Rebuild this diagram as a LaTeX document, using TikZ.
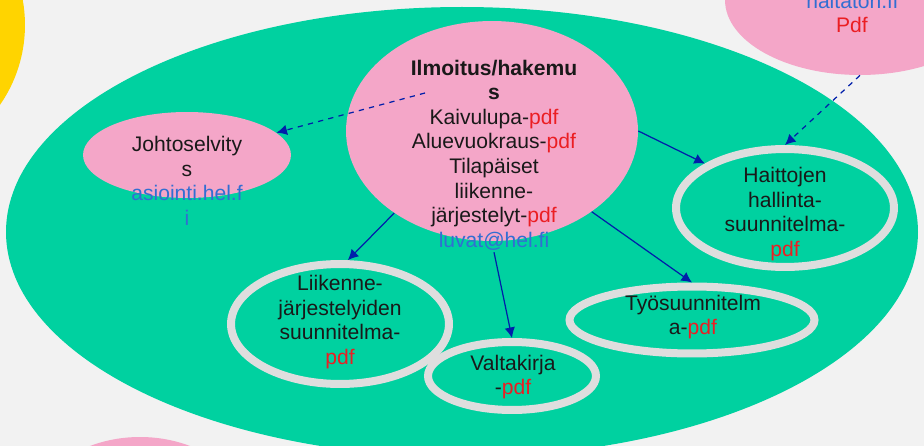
\documentclass[tikz,border=0pt]{standalone}
\usepackage{fontspec}
\setmainfont{Liberation Sans}
\usepackage{xcolor}
\usetikzlibrary{shapes.geometric, arrows.meta, positioning}

\definecolor{paper}{RGB}{242,242,242}
\definecolor{sungold}{RGB}{255,212,0}
\definecolor{fieldgreen}{RGB}{0,209,160}
\definecolor{bubblepink}{RGB}{244,166,200}
\definecolor{ringgray}{RGB}{222,222,222}
\definecolor{pdfred}{RGB}{235,30,35}
\definecolor{linkblue}{RGB}{50,110,210}
\definecolor{arrowblue}{RGB}{0,30,170}
\definecolor{inkdark}{RGB}{25,25,25}

\begin{document}
\begin{tikzpicture}[x=0.02cm, y=-0.02cm,
    bubble/.style={ellipse, fill=bubblepink, inner sep=0pt},
    ring/.style={ellipse, draw=ringgray, line width=0.16cm, fill=fieldgreen, inner sep=0pt},
    txt/.style={align=center, font=\fontsize{12}{14}\selectfont, text=inkdark, inner sep=1pt},
    link/.style={-{Latex[length=6pt,width=6pt]}, draw=arrowblue, line width=0.7pt},
    dashlink/.style={link, dashed}
]
% Frame
\clip (0,0) rectangle (924,446);
\fill[paper] (0,0) rectangle (924,446);

% Background shapes
\fill[sungold] (-115,25) circle [radius=2.8cm];
\fill[bubblepink] (140,545) ellipse (125 and 108);
\fill[fieldgreen] (462,232) ellipse (456 and 225);

% Bubbles
\node[bubble, minimum width=5.4cm, minimum height=3cm] (haitaton) at (860,0) {};
\node[bubble, minimum width=5.84cm, minimum height=4.4cm] (ilm) at (492,131) {};
\node[bubble, minimum width=4.16cm, minimum height=1.72cm] (johto) at (187,155) {};

% Rings
\node[ring, minimum width=4.36cm, minimum height=2.36cm] (haitt) at (785,208) {};
\node[ring, minimum width=4.36cm, minimum height=2.4cm] (liik) at (340,324) {};
\node[ring, minimum width=3.36cm, minimum height=1.36cm] (valt) at (512,376) {};
\node[ring, minimum width=4.9cm, minimum height=1.34cm] (tyo) at (692,320) {};

% Texts
\node[txt] (haitatontext) at (852,13) {\textcolor{linkblue}{haitaton.fi}\\\textcolor{pdfred}{Pdf}};
\node[txt] (ilmtext) at (494,155) {\textbf{Ilmoitus/hakemu}\\\textbf{s}\\Kaivulupa-\textcolor{pdfred}{pdf}\\Aluevuokraus-\textcolor{pdfred}{pdf}\\Tilapäiset\\liikenne-\\järjestelyt-\textcolor{pdfred}{pdf}\\\textcolor{linkblue}{luvat@hel.fi}};
\node[txt] (johtotext) at (187,181) {Johtoselvity\\s\\\textcolor{linkblue}{asiointi.hel.f}\\\textcolor{linkblue}{i}};
\node[txt] (haitttext) at (785,214) {Haittojen\\hallinta-\\suunnitelma-\\\textcolor{pdfred}{pdf}};
\node[txt] (liiktext) at (340,322) {Liikenne-\\järjestelyiden\\suunnitelma-\\\textcolor{pdfred}{pdf}};
\node[txt] (valttext) at (513,377) {Valtakirja\\-\textcolor{pdfred}{pdf}};
\node[txt] (tyotext) at (693,317) {Työsuunnitelm\\a-\textcolor{pdfred}{pdf}};

% Connections
\coordinate (ilmdash) at (425,93);
\draw[dashlink] (ilmdash) -- (johto.14);
\draw[dashlink] (haitaton.south) -- (haitt.north);
\draw[link] (ilm.east) -- (haitt.151);
\draw[link] (ilm.220) -- (liik.83);
\draw[link] (ilmtext.south) -- (valt.north);
\draw[link] (ilm.-39) -- (tyo.north);

\end{tikzpicture}
\end{document}
